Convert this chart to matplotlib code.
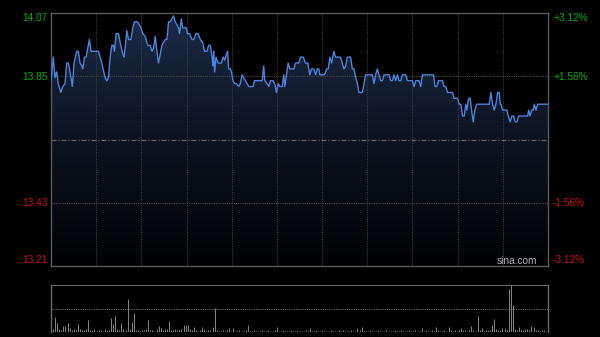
import numpy as np
import matplotlib
matplotlib.use("Agg")
import matplotlib.pyplot as plt
from matplotlib.colors import LinearSegmentedColormap

# ---- data ----
minutes = [0, 1.11, 1.94, 2.76, 3.53, 4.69, 5.66, 6.77, 7.60, 8.37, 9.19, 10.31, 11.13, 12.44, 13.21,
           14.03, 14.86, 15.34, 16.11, 16.94, 17.76, 18.53, 19.36, 20.47, 22.89, 24.53, 26.13, 26.95,
           27.73, 28.55, 29.37, 30.15, 30.63, 31.45, 32.57, 33.39, 34.70, 35.32, 36.63, 37.41, 38.57,
           39.53, 40.31, 41.76, 42.58, 43.41, 44.37, 45.49, 46.79, 47.91, 48.73, 49.50, 50.33, 51.15,
           51.92, 52.75, 53.57, 54.34, 55.16, 55.99, 56.76, 57.58, 58.41, 59.18, 60.00, 60.83, 61.60,
           62.08, 62.91, 63.54, 64.50, 65.33, 65.95, 66.92, 68.08, 68.86, 70.02, 70.99, 72.10, 73.21,
           74.18, 75.34, 76.11, 76.94, 77.76, 78.25, 78.54, 79.02, 79.70, 80.67, 81.44, 82.26, 83.09,
           83.86, 84.68, 85.31, 85.80, 86.62, 87.10, 87.93, 88.70, 89.52, 90.64, 91.46, 92.28, 93.05,
           93.88, 94.70, 95.47, 96.30, 97.60, 98.23, 99.54, 101.96, 102.73, 103.21, 104.38, 105.15,
           105.97, 107.28, 108.05, 108.88, 109.70, 110.47, 111.64, 112.41, 112.90, 113.72, 114.54,
           115.32, 117.25, 118.07, 119.67, 120.49, 121.80, 122.91, 124.02, 124.99, 125.81, 126.93,
           127.75, 128.57, 129.35, 129.83, 132.10, 133.07, 133.89, 134.66, 135.49, 136.60, 137.43,
           139.85, 140.67, 141.44, 142.27, 143.09, 144.69, 145.51, 146.28, 147.11, 147.93, 148.70,
           150.35, 151.12, 151.94, 155.19, 155.96, 156.78, 157.60, 158.38, 159.20, 160.03, 160.80,
           163.22, 164.04, 164.86, 165.64, 166.46, 167.28, 168.06, 168.88, 169.70, 171.30, 172.12,
           174.54, 175.31, 176.14, 177.73, 178.56, 179.38, 184.70, 185.48, 186.30, 187.12, 189.06,
           189.83, 190.66, 191.48, 193.08, 193.90, 194.68, 196.32, 197.09, 197.92, 198.74, 199.51,
           200.34, 200.82, 201.64, 202.41, 203.09, 203.86, 204.69, 205.51, 211.61, 212.43, 213.26,
           214.03, 214.85, 215.68, 216.45, 216.93, 217.27, 218.09, 220.17, 220.80, 221.76, 222.59,
           223.41, 224.18, 225.01, 225.83, 230.19, 230.67, 231.30, 232.12, 232.89, 233.38, 234.20,
           235.02, 240.00]

prices = [13.84, 13.92, 13.85, 13.87, 13.83, 13.80, 13.82, 13.83, 13.90, 13.90, 13.87, 13.82, 13.90,
          13.94, 13.94, 13.90, 13.89, 13.88, 13.92, 13.92, 13.95, 13.98, 13.94, 13.94, 13.94, 13.90,
          13.85, 13.84, 13.85, 13.92, 13.96, 13.96, 13.94, 14.00, 14.00, 13.97, 13.93, 13.92, 14.01,
          13.98, 13.98, 14.02, 14.04, 14.04, 14.03, 14.02, 14.00, 13.99, 13.96, 13.96, 13.94, 13.95,
          13.99, 13.94, 13.90, 13.93, 13.96, 13.97, 13.98, 13.98, 14.04, 14.04, 14.05, 14.06, 14.04,
          14.03, 14.02, 14.00, 14.05, 14.02, 14.02, 14.02, 14.00, 14.00, 13.98, 13.98, 14.00, 14.00,
          13.98, 13.97, 13.94, 13.94, 13.96, 13.96, 13.92, 13.89, 13.94, 13.87, 13.92, 13.90, 13.90,
          13.90, 13.92, 13.91, 13.93, 13.94, 13.88, 13.88, 13.87, 13.84, 13.83, 13.83, 13.82, 13.83,
          13.86, 13.85, 13.84, 13.83, 13.82, 13.82, 13.82, 13.84, 13.84, 13.84, 13.89, 13.84, 13.83,
          13.82, 13.84, 13.84, 13.83, 13.80, 13.83, 13.82, 13.82, 13.86, 13.82, 13.86, 13.90, 13.88,
          13.88, 13.90, 13.90, 13.92, 13.92, 13.90, 13.90, 13.86, 13.88, 13.88, 13.86, 13.88, 13.88,
          13.86, 13.86, 13.88, 13.88, 13.92, 13.90, 13.94, 13.92, 13.92, 13.90, 13.88, 13.89, 13.92,
          13.92, 13.88, 13.88, 13.85, 13.83, 13.80, 13.80, 13.83, 13.86, 13.86, 13.83, 13.86, 13.88,
          13.86, 13.84, 13.84, 13.86, 13.86, 13.84, 13.84, 13.86, 13.84, 13.86, 13.84, 13.84, 13.86,
          13.86, 13.84, 13.84, 13.82, 13.84, 13.84, 13.82, 13.86, 13.86, 13.82, 13.82, 13.84, 13.84,
          13.82, 13.82, 13.80, 13.80, 13.80, 13.78, 13.78, 13.76, 13.76, 13.72, 13.72, 13.76, 13.74,
          13.78, 13.78, 13.74, 13.70, 13.74, 13.76, 13.76, 13.80, 13.76, 13.74, 13.76, 13.80, 13.80,
          13.76, 13.76, 13.74, 13.74, 13.72, 13.70, 13.72, 13.72, 13.70, 13.70, 13.72, 13.72, 13.74,
          13.72, 13.74, 13.74, 13.76, 13.74, 13.76, 13.76]

volumes = [12, 3, 15, 9, 3, 2, 6, 6, 9, 4, 2, 3, 2, 8, 3, 2, 2, 3, 12, 2,
           2, 3, 1, 2, 2, 1, 3, 2, 2, 14, 8, 16, 3, 2, 9, 3, 2, 33, 3, 10,
           19, 2, 2, 1, 2, 2, 3, 12, 2, 2, 1, 3, 6, 4, 2, 3, 3, 11, 2, 2,
           3, 2, 2, 3, 7, 7, 7, 3, 2, 5, 2, 1, 2, 5, 3, 1, 2, 2, 5, 24,
           2, 1, 1, 2, 1, 2, 4, 1, 4, 1, 1, 2, 1, 1, 2, 7, 1, 1, 2, 1,
           1, 1, 2, 1, 1, 2, 1, 1, 2, 5, 1, 1, 2, 1, 1, 1, 2, 1, 1, 2,
           1, 1, 1, 2, 1, 4, 1, 1, 2, 1, 1, 2, 1, 1, 1, 2, 1, 1, 1, 2,
           1, 2, 1, 1, 1, 2, 1, 1, 4, 2, 5, 1, 1, 1, 2, 1, 1, 1, 2, 1,
           1, 1, 2, 1, 1, 1, 2, 1, 1, 2, 1, 1, 1, 2, 1, 1, 2, 1, 1, 4,
           1, 2, 1, 1, 2, 1, 5, 2, 1, 1, 2, 1, 5, 2, 1, 2, 1, 2, 4, 2,
           2, 1, 2, 6, 2, 1, 16, 2, 4, 1, 2, 2, 2, 7, 13, 3, 2, 2, 4, 4,
           2, 43, 47, 27, 3, 2, 5, 2, 2, 3, 3, 2, 6, 5, 2, 2, 1, 2, 2, 1, 2]

prev_close = 13.64
price_min, price_max = 13.21, 14.07
left_labels = ["14.07", "13.85", "13.43", "13.21"]
right_labels = ["+3.12%", "+1.56%", "-1.56%", "-3.12%"]

GREEN = "#00b000"
RED = "#d01010"
FONT = "Liberation Sans"

fig = plt.figure(figsize=(6.0, 3.37), dpi=100, facecolor="black")
W, H = 600.0, 337.0

ax = fig.add_axes([51 / W, (H - 266) / H, 497 / W, 253 / H])
ax.set_facecolor("black")
ax.set_xlim(0, 240)
ax.set_ylim(price_min, price_max)

# gradient fill under line
x = np.array(minutes)
y = np.array(prices)
poly = ax.fill_between(x, y, price_min, color="none", linewidth=0)
cmap = LinearSegmentedColormap.from_list("g", ["#020204", "#0c1320", "#1c2b48"])
grad = np.linspace(0, 1, 256).reshape(-1, 1)
im = ax.imshow(grad, extent=[0, 240, price_min, price_max], origin="lower",
               aspect="auto", cmap=cmap, zorder=1)
path = poly.get_paths()[0]
im.set_clip_path(path, transform=ax.transData)

# grid
for k in range(1, 11):
    ax.axvline(240 * k / 11, color="#3c3c3c", lw=0.8, ls=(0, (1, 1)), zorder=2)
span = price_max - price_min
for f in (0.25, 0.75):
    ax.axhline(price_min + span * f, color="#4a4a4a", lw=0.8, ls=(0, (1, 1)), zorder=2)
ax.axhline(prev_close, color="#666666", lw=0.9, ls=(0, (4, 1.5, 1, 1.5)), zorder=2)

ax.plot(x, y, color="#4b84dc", lw=1.0, zorder=3)

for s in ax.spines.values():
    s.set_color("#5a5a5a")
    s.set_linewidth(1.0)
ax.set_xticks([])
ax.set_yticks([])

# labels
label_y = [18, 77, 203, 260]
colors = [GREEN, GREEN, RED, RED]
for txt, ypix, c in zip(left_labels, label_y, colors):
    fig.text(48 / W, (H - ypix) / H, txt, color=c, ha="right", va="center",
             fontsize=7.3, family=FONT)
for txt, ypix, c in zip(right_labels, label_y, colors):
    fig.text(553 / W, (H - ypix) / H, txt, color=c, ha="left", va="center",
             fontsize=7.3, family=FONT)
fig.text(537 / W, (H - 261) / H, "sina.com", color="#b0b0b0", ha="right", va="center",
         fontsize=7.3, family=FONT)

# volume panel
vax = fig.add_axes([51 / W, (H - 332) / H, 497 / W, 47 / H])
vax.set_facecolor("black")
vax.set_xlim(0, 240)
vmax = max(volumes)
vax.set_ylim(0, vmax)
vax.vlines(np.arange(len(volumes)), 0, volumes, color="#858585", lw=0.7)
vax.axhline(vmax / 2, color="#6a6a6a", lw=0.8, ls=(0, (1, 1)))
vax.set_xticks([])
vax.set_yticks([])
vax.spines["top"].set_linestyle((0, (1, 1)))
vax.spines["top"].set_color("#6a6a6a")
vax.spines["bottom"].set_visible(False)
for side in ("left", "right"):
    vax.spines[side].set_color("#6a6a6a")
    vax.spines[side].set_linewidth(1.0)

fig.savefig("out.png", dpi=100, facecolor="black")
